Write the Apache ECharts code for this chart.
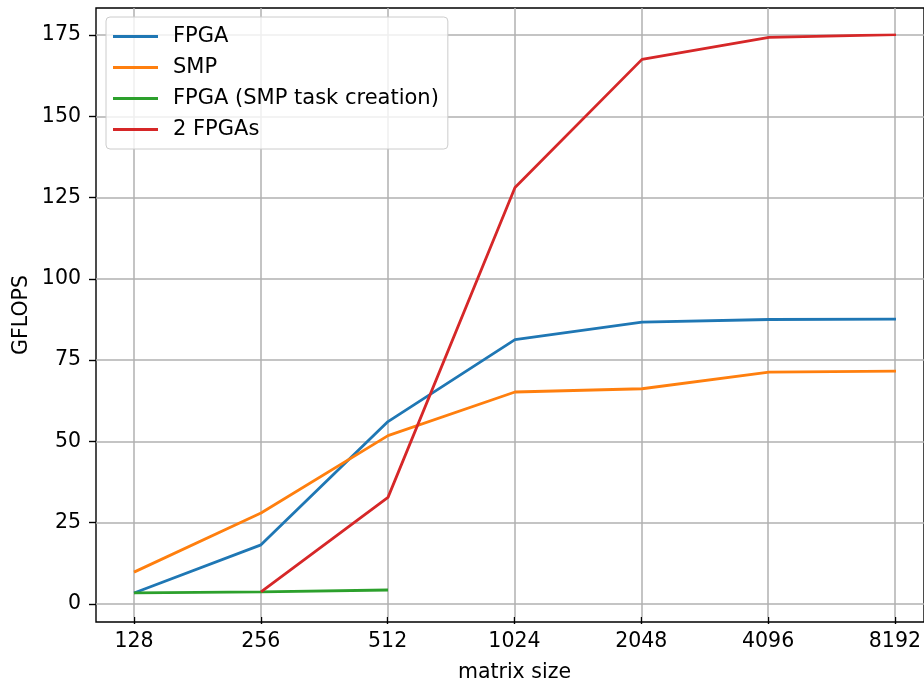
<!DOCTYPE html>
<html>
<head>
<meta charset="utf-8">
<script src="https://cdn.jsdelivr.net/npm/echarts@6/dist/echarts.min.js"></script>
<style>
  html, body { margin: 0; padding: 0; background: #fff; }
  #chart { width: 924px; height: 688px; }
</style>
</head>
<body>
<div id="chart"></div>
<script>
const sizes = ['128', '256', '512', '1024', '2048', '4096', '8192'];
const fpga = [3.4, 18.2, 56.1, 81.3, 86.7, 87.5, 87.6];
const smp = [9.8, 28.0, 51.8, 65.2, 66.2, 71.3, 71.6];
const fpgaSmpTask = [3.4, 3.7, 4.3, null, null, null, null];
const twoFpgas = [null, 3.7, 32.8, 128.1, 167.5, 174.3, 175.1];
const yTicks = [0, 25, 50, 75, 100, 125, 150, 175];

const font = 'DejaVu Sans';
const fs = 20.5;
const gridColor = '#b0b0b0';

const chart = echarts.init(document.getElementById('chart'));

function line(name, data, color) {
  return {
    name: name,
    type: 'line',
    xAxisIndex: 0,
    yAxisIndex: 0,
    data: data,
    symbol: 'none',
    connectNulls: false,
    lineStyle: { color: color, width: 2.8 },
    itemStyle: { color: color },
    animation: false,
  };
}

chart.setOption({
  animation: false,
  textStyle: { fontFamily: font },
  grid: [
    // data area: 0 -> y 604, 175 -> y 35, first/last category at x 134 / 896
    { left: 134, right: 28, top: 35, bottom: 84 },
    // horizontal grid lines and y ticks, full frame width
    { left: 96, right: -10, top: 35, bottom: 84 },
    // vertical grid lines and x ticks, full frame height
    { left: 134, right: 28, top: 8, bottom: 66 },
    // frame
    { left: 96, right: -10, top: 8, bottom: 66, show: true, borderColor: '#000', borderWidth: 1.4, backgroundColor: 'transparent' },
  ],
  xAxis: [
    { gridIndex: 0, type: 'category', data: sizes, boundaryGap: false, show: false },
    { gridIndex: 1, type: 'value', show: false },
    {
      gridIndex: 2, type: 'category', data: sizes, boundaryGap: false,
      name: 'matrix size', nameLocation: 'middle', nameGap: 45,
      nameTextStyle: { fontSize: fs, color: '#000', fontFamily: font },
      axisLine: { show: false },
      axisTick: { show: true, length: 7, alignWithLabel: true, interval: 0, lineStyle: { color: '#000', width: 1.4 } },
      axisLabel: { interval: 0, margin: 14, fontSize: fs, color: '#000', fontFamily: font },
      splitLine: { show: true, interval: 0, lineStyle: { color: gridColor, width: 1.5 } },
    },
    { gridIndex: 3, type: 'value', show: false },
  ],
  yAxis: [
    { gridIndex: 0, type: 'value', min: 0, max: 175, show: false },
    {
      gridIndex: 1, type: 'value', min: yTicks[0], max: yTicks[yTicks.length - 1], interval: 25,
      axisLine: { show: false },
      axisTick: { show: true, length: 7, lineStyle: { color: '#000', width: 1.4 } },
      axisLabel: { margin: 15, fontSize: fs, color: '#000', fontFamily: font },
      splitLine: { show: true, lineStyle: { color: gridColor, width: 1.5 } },
    },
    { gridIndex: 2, type: 'value', show: false },
    {
      gridIndex: 3, type: 'value',
      name: 'GFLOPS', nameLocation: 'middle', nameGap: 64,
      nameTextStyle: { fontSize: fs, color: '#000', fontFamily: font },
      axisLine: { show: false }, axisTick: { show: false },
      axisLabel: { show: false }, splitLine: { show: false },
    },
  ],
  legend: {
    orient: 'vertical',
    left: 106,
    top: 17,
    padding: [9, 9, 9, 7],
    icon: 'rect',
    itemWidth: 45,
    itemHeight: 2.8,
    itemGap: 10,
    backgroundColor: 'rgba(255,255,255,0.8)',
    borderColor: '#cccccc',
    borderWidth: 1,
    borderRadius: 4,
    textStyle: { fontSize: 21, color: '#000', fontFamily: font, padding: [0, 0, 0, 10] },
    data: ['FPGA', 'SMP', 'FPGA (SMP task creation)', '2 FPGAs'],
  },
  series: [
    line('FPGA', fpga, '#1f77b4'),
    line('SMP', smp, '#ff7f0e'),
    line('FPGA (SMP task creation)', fpgaSmpTask, '#2ca02c'),
    line('2 FPGAs', twoFpgas, '#d62728'),
  ],
});
</script>
</body>
</html>
